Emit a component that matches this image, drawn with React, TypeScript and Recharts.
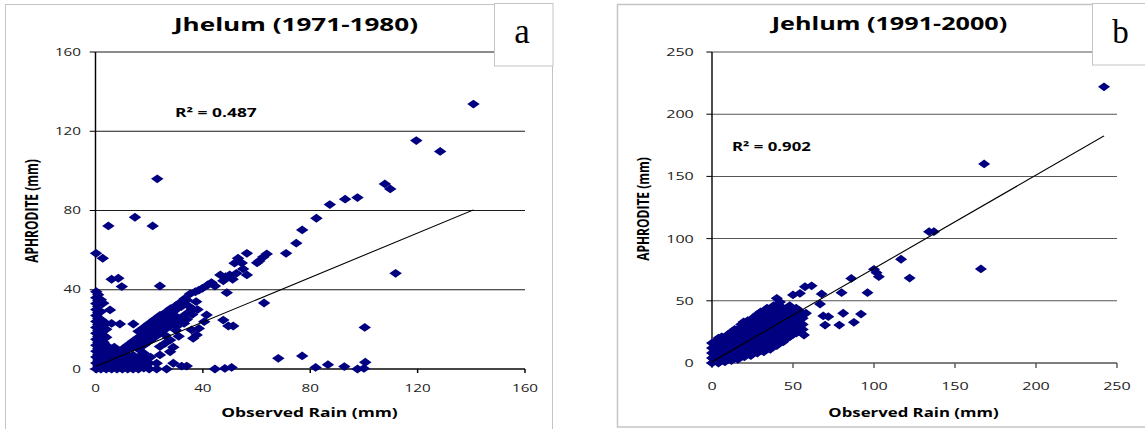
import React from 'react';
import { ScatterChart, Scatter, XAxis, YAxis, CartesianGrid } from 'recharts';

type P = [number, number];

const ticksA = [0, 40, 80, 120, 160];
const ticksB = [0, 50, 100, 150, 200, 250];

const titleA = 'Jhelum (1971-1980)';
const titleB = 'Jehlum (1991-2000)';
const r2A = 'R² = 0.487';
const r2B = 'R² = 0.902';
const xLabel = 'Observed Rain (mm)';
const yLabel = 'APHRODITE (mm)';

const outliersA: P[] = [
  [140.8, 133.7], [119.5, 115.3], [128.4, 109.8], [107.8, 93.4], [109.8, 90.9], [97.6, 86.5], [93, 85.7],
  [87.3, 83], [82.3, 76.1], [77, 70.2], [74.8, 63.5], [71, 58.4],
  [63.8, 58.1], [62.5, 56.5], [61, 54.5], [60.2, 53.6], [56.4, 58.4], [53.1, 55.9], [54.5, 53.5], [51.8, 53.4],
  [55, 50.5], [56.4, 47.5], [52.5, 48.3], [51.1, 45.3], [50, 47.5], [48.5, 46.6], [47.6, 44.5], [46.5, 47.5],
  [44.5, 41.9], [43.2, 43.6], [41.8, 42.4], [39.8, 40.7], [38.5, 39.8], [37.2, 39], [35.2, 37.9], [34, 34.8],
  [33.2, 35.5], [31.2, 33.2], [48.9, 38.5], [62.8, 33.3], [111.8, 48.3], [100.3, 21], [100.5, 3.4], [100, 0.3],
  [97.6, 0], [92.7, 1.2], [86.6, 2.2], [82, 0.8], [77, 6.6], [68.1, 5.4],
  [23, 96], [14.7, 76.6], [4.8, 72.2], [21.3, 72.2], [0.2, 58.4], [2.7, 55.9], [6, 45.3], [8.5, 45.8],
  [9.8, 41.6], [24, 41.9],
];

const lowerA: P[] = [
  [41.4, 27.3], [47.6, 24.7], [49.5, 21.7], [51.3, 21.7], [40.5, 23.9], [38.5, 20.5], [35.8, 19.7], [37.7, 17.2],
  [36.4, 15.5], [30.2, 21.4], [33, 23], [27.8, 14.6], [25.9, 13], [27.8, 8.7], [24, 11.3], [24, 7.1],
  [22.8, 2.9], [22.8, 0], [26.5, 0], [29, 2.9], [32.1, 1.5], [34, 1.5], [44.5, 0], [48.2, 0.3], [50.7, 0.8],
  [30, 19.5], [34, 25], [36, 27.5], [38, 30], [35, 31.5], [37.5, 34], [26, 17], [29, 11], [31, 16.5],
];

const diagonalA: P[] = [
  [10, 10], [12, 12], [14, 14], [16, 16], [18, 18], [20, 20], [22, 22], [24, 24], [26, 26], [28, 28], [30, 30],
  [32, 31.5], [29.5, 27], [27.5, 25], [25.5, 23], [23.5, 21], [21.5, 19], [19.5, 17], [17.5, 15], [15.5, 13],
  [13.5, 11], [11.5, 9.5], [16, 19], [18, 21], [20, 23], [22, 25], [24, 27], [26, 28.5], [28, 30.5], [30, 32],
  [32, 26], [34, 28], [36, 30], [30, 24], [28, 22], [26, 20], [24, 18], [22, 16], [20, 14], [18, 12], [16, 10],
  [21, 21.5], [25, 25.5], [29, 29], [33, 33], [27, 27], [23, 23], [19, 19],
];

const clusterA: P[] = [
  [0.3, 0], [0.3, 3], [0.3, 6], [0.3, 9], [0.3, 12], [0.3, 15], [0.3, 18], [0.3, 21], [0.3, 24], [0.3, 27],
  [0.3, 30], [0.3, 33], [0.3, 36], [0.3, 39],
  [1, 1.5], [1, 4.5], [1, 7.5], [1, 10.5], [1, 13.5], [1, 16.5], [1, 19.5], [1, 22.5], [1, 25.5], [1, 28.5],
  [1, 31.5], [1, 34.5], [1, 37.5],
  [2, 0], [2, 3], [2, 6], [2, 9], [2, 12], [2, 15], [2, 18], [2, 21], [2, 25], [2, 29], [2, 35], [2.9, 33.2],
  [3, 1.5], [3, 4.5], [3, 7.5], [3, 10.5], [3, 13.5], [3, 17], [3, 22],
  [4, 0], [4, 3], [4, 6], [4, 9], [4, 12], [4, 16], [4, 20], [4, 23], [5.4, 29.8],
  [5, 1.5], [5, 4.5], [5, 7.5], [5, 10.5],
  [6, 0], [6, 3], [6, 6], [6, 9], [6, 23],
  [7, 1.5], [7, 4.5], [7, 7.5], [7, 11],
  [8, 0], [8, 3], [8, 6], [8, 9], [9.1, 22.7],
  [9, 1.5], [9, 4.5], [9, 8],
  [10, 0], [10, 3], [10, 6],
  [11, 1.5], [11, 4.5], [11, 8],
  [12, 0], [12, 3], [12, 6.5],
  [13, 1.5], [13, 5],
  [14, 0], [14, 3.5], [14, 7], [14.1, 22.7],
  [15, 1.5], [15, 4.5],
  [16, 0], [16, 3], [16, 6],
  [17, 1.5], [17, 6],
  [18, 0.5], [18, 4], [18, 8],
  [19, 1.5], [19, 5],
  [20, 0], [20, 3], [20.5, 6],
];

const trendA: P[] = [[0.4, 1.5], [140.8, 80.3]];

const outliersB: P[] = [
  [242, 222], [168, 160], [166, 75.6], [134, 105.6], [137, 105.6], [116.7, 83.4], [122, 68.3], [100, 75.3],
  [101.6, 72.6], [103, 69.4], [86, 68], [96, 56.5], [92, 39.3], [87.6, 32.7], [80, 56.5], [81, 40],
  [78.6, 30.5], [69.8, 30.5], [68.7, 37.8], [71.8, 37.2], [66.7, 47.4], [67.7, 55.5], [61.5, 62], [57.4, 61.3],
  [40, 52], [50, 54.7], [54.3, 56], [56.8, 22.5], [51.2, 27.9], [46, 19.8], [58, 40], [51.4, 28],
];

const blobB: P[] = [
  [0, 0], [0, 4], [0, 8], [0, 12], [0, 16],
  [2, 2], [2, 6], [2, 10], [2, 14], [2, 17],
  [4, 0], [4, 4], [4, 8], [4, 12], [4, 16], [4, 20],
  [6, 2], [6, 6], [6, 10], [6, 14], [6, 18], [6, 21],
  [8, 1], [8, 5], [8, 9], [8, 13], [8, 17], [8, 21],
  [10, 3], [10, 7], [10, 11], [10, 15], [10, 19], [10, 23],
  [12, 2], [12, 6], [12, 10], [12, 14], [12, 18], [12, 22], [12, 25],
  [14, 4], [14, 8], [14, 12], [14, 16], [14, 20], [14, 24], [14, 27],
  [16, 3], [16, 7], [16, 11], [16, 15], [16, 19], [16, 23], [16, 27],
  [18, 5], [18, 9], [18, 13], [18, 17], [18, 21], [18, 25], [18, 29], [18, 31],
  [20, 5], [20, 9], [20, 13], [20, 17], [20, 21], [20, 25], [20, 29], [19.5, 33],
  [22, 7], [22, 11], [22, 15], [22, 19], [22, 23], [22, 27], [22, 31], [22, 34],
  [24, 6], [24, 10], [24, 14], [24, 18], [24, 22], [24, 26], [24, 30], [24, 34],
  [26, 9], [26, 13], [26, 17], [26, 21], [26, 25], [26, 29], [26, 33], [26, 37],
  [28, 8], [28, 12], [28, 16], [28, 20], [28, 24], [28, 28], [28, 32], [28, 36], [28, 39],
  [30, 10], [30, 14], [30, 18], [30, 22], [30, 26], [30, 30], [30, 34], [30, 38], [30, 41],
  [32, 9], [32, 13], [32, 17], [32, 21], [32, 25], [32, 29], [32, 33], [32, 37], [32, 41],
  [34, 12], [34, 16], [34, 20], [34, 24], [34, 28], [34, 32], [34, 36], [34, 40], [34, 44],
  [36, 11], [36, 15], [36, 19], [36, 23], [36, 27], [36, 31], [36, 35], [36, 39], [36, 43],
  [38, 14], [38, 18], [38, 22], [38, 26], [38, 30], [38, 34], [38, 38], [38, 42], [38, 46],
  [40, 14], [40, 18], [40, 22], [40, 26], [40, 30], [40, 34], [40, 38], [40, 42], [40, 46],
  [42, 17], [42, 21], [42, 25], [42, 29], [42, 33], [42, 37], [42, 41], [42, 45], [42, 49],
  [44, 17], [44, 21], [44, 25], [44, 29], [44, 33], [44, 37], [44, 41], [44, 44],
  [46, 20], [46, 24], [46, 28], [46, 32], [46, 36], [46, 40], [46, 44],
  [48, 21], [48, 25], [48, 29], [48, 33], [48, 37], [48, 41], [48, 46],
  [50, 23], [50, 27], [50, 31], [50, 35], [50, 39], [50, 43],
  [52, 24], [52, 28], [52, 32], [52, 36], [52, 40], [52, 44],
  [54, 26], [54, 30], [54, 34], [54, 38], [54, 42],
  [56, 27], [56, 31], [56, 36],
];

const trendB: P[] = [[0, 1], [242, 182.5]];

const toObj = (arr: P[]) => arr.map(([x, y]) => ({ x, y }));

const NAVY = '#000080';

const Diamond = (props: any) => {
  const { cx, cy } = props;
  if (cx == null || cy == null || isNaN(cx) || isNaN(cy)) return <g />;
  const w = 4.3;
  const h = 4.4;
  return (
    <polygon
      points={`${cx - w},${cy} ${cx},${cy - h} ${cx + w},${cy} ${cx},${cy + h}`}
      fill={NAVY}
    />
  );
};

const NoShape = () => <g />;

const FONT = '"Open Sans", "Liberation Sans", sans-serif';

const SA = 1.45;
const WA = 560 / SA;
const SB = 1.4;
const WB = 585 / SB;

export default function App() {
  const allA = [...clusterA, ...diagonalA, ...lowerA, ...outliersA];
  const allB = [...blobB, ...outliersB];
  return (
    <div style={{ position: 'absolute', left: 0, top: 0, width: 1145, height: 429, overflow: 'hidden', background: '#fff' }}>
      {/* Panel A */}
      <div style={{ position: 'absolute', left: 0, top: 0, width: WA, height: 429, transform: `scaleX(${SA})`, transformOrigin: '0 0' }}>
        <ScatterChart width={WA} height={429} margin={{ top: 52, right: WA - 525 / SA, bottom: 35, left: 95.5 / SA - 30 }}>
          <CartesianGrid vertical={false} stroke="#1a1a1a" strokeWidth={1} />
          <XAxis
            type="number"
            dataKey="x"
            domain={[0, 160]}
            ticks={ticksA}
            height={25}
            tickSize={4}
            tickMargin={12}
            stroke="#000"
            tick={{ fill: '#222', fontSize: 10.5, fontFamily: FONT }}
          />
          <YAxis
            type="number"
            dataKey="y"
            domain={[0, 160]}
            ticks={ticksA}
            width={30}
            tickSize={4}
            tickMargin={6}
            stroke="#000"
            tick={{ fill: '#222', fontSize: 10.5, fontFamily: FONT }}
          />
          <Scatter data={toObj(allA)} shape={Diamond} isAnimationActive={false} />
          <Scatter data={toObj(trendA)} shape={NoShape} line={{ stroke: '#000', strokeWidth: 1 }} isAnimationActive={false} />
        </ScatterChart>
        <svg width={WA} height={429} style={{ position: 'absolute', left: 0, top: 0, pointerEvents: 'none' }}>
          <text x={296 / SA} y={31} textAnchor="middle" fontFamily={FONT} fontWeight="bold" fontSize={18} fill="#000">{titleA}</text>
          <text x={175 / SA} y={117} textAnchor="start" fontFamily={FONT} fontWeight="bold" fontSize={12} fill="#000">{r2A}</text>
          <text x={309.5 / SA} y={417} textAnchor="middle" fontFamily={FONT} fontWeight="bold" fontSize={12} fill="#000">{xLabel}</text>
          <text transform={`translate(${37.5 / SA},211) rotate(-90)`} textAnchor="middle" fontFamily={FONT} fontWeight="bold" fontSize={12} fill="#000">{yLabel}</text>
        </svg>
      </div>

      {/* Panel B */}
      <div style={{ position: 'absolute', left: 560, top: 0, width: WB, height: 429, transform: `scaleX(${SB})`, transformOrigin: '0 0' }}>
        <ScatterChart width={WB} height={429} margin={{ top: 52, right: WB - (1117 - 560) / SB, bottom: 41, left: (712 - 560) / SB - 30 }}>
          <CartesianGrid vertical={false} stroke="#555" strokeWidth={1} />
          <XAxis
            type="number"
            dataKey="x"
            domain={[0, 250]}
            ticks={ticksB}
            height={25}
            tickSize={5}
            tickMargin={14}
            stroke="#555"
            tick={{ fill: '#222', fontSize: 11.5, fontFamily: FONT }}
          />
          <YAxis
            type="number"
            dataKey="y"
            domain={[0, 250]}
            ticks={ticksB}
            width={30}
            tickSize={4}
            tickMargin={9}
            stroke="#000"
            tick={{ fill: '#222', fontSize: 11.5, fontFamily: FONT }}
          />
          <Scatter data={toObj(allB)} shape={Diamond} isAnimationActive={false} />
          <Scatter data={toObj(trendB)} shape={NoShape} line={{ stroke: '#000', strokeWidth: 1 }} isAnimationActive={false} />
        </ScatterChart>
        <svg width={WB} height={429} style={{ position: 'absolute', left: 0, top: 0, pointerEvents: 'none' }}>
          <text x={(889.5 - 560) / SB} y={30.5} textAnchor="middle" fontFamily={FONT} fontWeight="bold" fontSize={18} fill="#000">{titleB}</text>
          <text x={(732 - 560) / SB} y={150.7} textAnchor="start" fontFamily={FONT} fontWeight="bold" fontSize={12} fill="#000">{r2B}</text>
          <text x={(913.5 - 560) / SB} y={417.5} textAnchor="middle" fontFamily={FONT} fontWeight="bold" fontSize={12} fill="#000">{xLabel}</text>
          <text transform={`translate(${(648.5 - 560) / SB},209) rotate(-90)`} textAnchor="middle" fontFamily={FONT} fontWeight="bold" fontSize={12} fill="#000">{yLabel}</text>
        </svg>
      </div>

      {/* Frames and panel letters */}
      <svg width={1145} height={429} style={{ position: 'absolute', left: 0, top: 0, pointerEvents: 'none' }}>
        <rect x={5.5} y={4.5} width={547} height={440} fill="none" stroke="#c4c4c4" strokeWidth={1} />
        <rect x={617.5} y={4.5} width={560} height={422.5} fill="none" stroke="#c4c4c4" strokeWidth={1.5} />
        <rect x={494.5} y={3.5} width={58.5} height={62.5} fill="#fff" stroke="#c4c4c4" strokeWidth={1} />
        <text x={522} y={43} textAnchor="middle" fontFamily='"Liberation Serif", "DejaVu Serif", serif' fontSize={35} fill="#000">a</text>
        <rect x={1092.5} y={3.5} width={80} height={61.5} fill="#fff" stroke="#c4c4c4" strokeWidth={1} />
        <text x={1120.5} y={43} textAnchor="middle" fontFamily='"Liberation Serif", "DejaVu Serif", serif' fontSize={33} fill="#000">b</text>
      </svg>
    </div>
  );
}
